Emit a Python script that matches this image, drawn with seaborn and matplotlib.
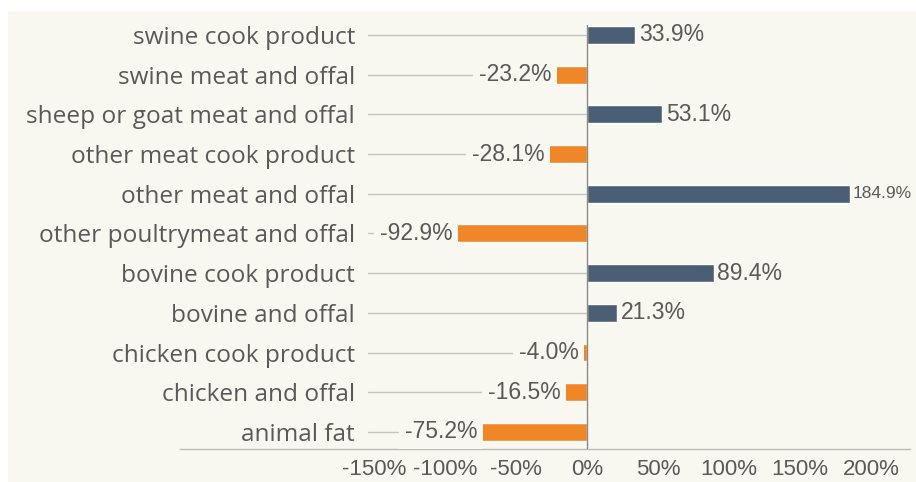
import matplotlib
matplotlib.use("Agg")
import matplotlib.pyplot as plt
from matplotlib.patches import Rectangle
import seaborn as sns
import pandas as pd

categories = [
    "swine cook product",
    "swine meat and offal",
    "sheep or goat meat and offal",
    "other meat cook product",
    "other meat and offal",
    "other poultrymeat and offal",
    "bovine cook product",
    "bovine and offal",
    "chicken cook product",
    "chicken and offal",
    "animal fat",
]
values = [33.9, -23.2, 53.1, -28.1, 184.9, -92.9, 89.4, 21.3, -4.0, -16.5, -75.2]
xticks = [-150, -100, -50, 0, 50, 100, 150, 200]
xtick_labels = ["-150%", "-100%", "-50%", "0%", "50%", "100%", "150%", "200%"]

BG = "#F8F8F0"
POS = "#4A5F74"
NEG = "#EF8628"
TXT = "#595959"

sns.set_theme(style="white")
plt.rcParams["font.family"] = ["Liberation Sans", "DejaVu Sans"]

df = pd.DataFrame({"category": categories, "value": values})
df["sign"] = ["pos" if v >= 0 else "neg" for v in values]

W, H = 916, 482
fig = plt.figure(figsize=(W / 100, H / 100), dpi=100, facecolor="white")
fig.patches.append(Rectangle((8 / W, 0), 1, (H - 11) / H, transform=fig.transFigure,
                             facecolor=BG, edgecolor="none", zorder=-10))

ax_left, ax_right = 180, 910
ax_top, ax_bottom = 25, 449
ax = fig.add_axes([ax_left / W, (H - ax_bottom) / H, (ax_right - ax_left) / W, (ax_bottom - ax_top) / H])
ax.patch.set_alpha(0)

pxper = 1.42
zero_px = 587
ax.set_xlim(-(zero_px - ax_left) / pxper, (ax_right - zero_px) / pxper)

sns.barplot(data=df, x="value", y="category", hue="sign", palette={"pos": POS, "neg": NEG},
            dodge=False, legend=False, width=0.45, ax=ax, zorder=3, saturation=1)

n = len(categories)
ax.set_ylim(n - 1 + 0.43, -0.25)

# leader lines
leader_start = -(zero_px - 368) / pxper
for i in range(n):
    ax.plot([leader_start, 0], [i, i], color="#C4C4C0", lw=1, zorder=1)
ax.axvline(0, color="#8A8A8A", lw=1, zorder=4)

for i, v in enumerate(values):
    size = 12.5 if v > 150 else 16.5
    if v >= 0:
        ax.text(v + 2.5, i, f"{v:.1f}%", ha="left", va="center", fontsize=size, color=TXT, zorder=5)
    else:
        ax.text(v - 2, i, f"{v:.1f}%", ha="right", va="center", fontsize=size, color=TXT, zorder=5,
                bbox=dict(boxstyle="square,pad=0.25", facecolor=BG, edgecolor="none"))

ax.set_xticks(xticks)
ax.set_xticklabels(xtick_labels, fontsize=16, color=TXT)
ax.tick_params(axis="x", length=0, pad=7)
ax.tick_params(axis="y", length=0, pad=-126)
for lab in ax.get_yticklabels():
    lab.set_fontfamily(["Open Sans", "DejaVu Sans"])
    lab.set_fontsize(17.6)
    lab.set_color(TXT)
ax.set_xlabel("")
ax.set_ylabel("")
for s in ["top", "right", "left"]:
    ax.spines[s].set_visible(False)
ax.spines["bottom"].set_color("#BDBDB8")
ax.spines["bottom"].set_linewidth(1)

fig.savefig("out.png", dpi=100, facecolor="white")
